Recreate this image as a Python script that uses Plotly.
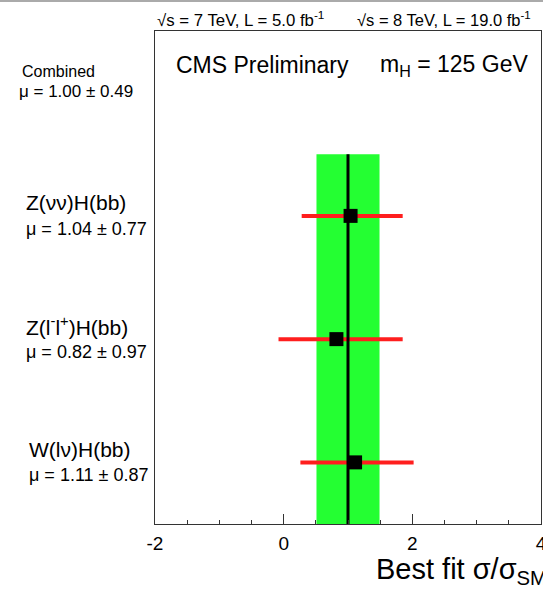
import plotly.graph_objects as go

# fit results
channels = ["W(lν)H(bb)", "Z(l<sup>-</sup>l<sup>+</sup>)H(bb)", "Z(νν)H(bb)"]
mu_text = ["μ = 1.11 ± 0.87", "μ = 0.82 ± 0.97", "μ = 1.04 ± 0.77"]
mu_vals = [1.11, 0.82, 1.04]
err_minus = [0.85, 0.90, 0.76]
err_plus = [0.91, 1.03, 0.81]
y_pos = [0.5, 1.5, 2.5]

comb_mu = 1.00
comb_err = 0.49
comb_text = "μ = 1.00 ± 0.49"

xticks = [-2, 0, 2, 4]
xtick_text = ["-2", "0", "2", "4"]

FONT = "Liberation Sans, Arial, sans-serif"

fig = go.Figure()

# green band for the combined result
fig.add_shape(type="rect", xref="x", yref="y",
              x0=comb_mu - comb_err, x1=comb_mu + comb_err, y0=0, y1=3,
              fillcolor="rgb(36,255,50)", line_width=0, layer="below")

# red error bars
fig.add_trace(go.Scatter(
    x=mu_vals, y=y_pos, mode="markers",
    marker=dict(size=1, color="rgba(0,0,0,0)"),
    error_x=dict(type="data", symmetric=False, array=err_plus, arrayminus=err_minus,
                 color="rgb(255,30,30)", thickness=4, width=0),
    showlegend=False, hoverinfo="skip"))

# black line at combined value
fig.add_trace(go.Scatter(
    x=[comb_mu, comb_mu], y=[0, 3], mode="lines",
    line=dict(color="black", width=3), showlegend=False, hoverinfo="skip"))

# markers
fig.add_trace(go.Scatter(
    x=mu_vals, y=y_pos, mode="markers",
    marker=dict(symbol="square", size=14, color="black", line_width=0),
    showlegend=False))

ann = []
for name, txt, y, dx in zip(channels, mu_text, y_pos, [-128, -131, -131]):
    ann.append(dict(x=0, xref="paper", y=y, yref="y", xanchor="left", yanchor="middle",
                    xshift=dx, yshift=13, text=name, showarrow=False,
                    font=dict(size=21, color="black", family=FONT)))
    ann.append(dict(x=0, xref="paper", y=y, yref="y", xanchor="left", yanchor="middle",
                    xshift=dx, yshift=-13, text=txt, showarrow=False,
                    font=dict(size=18, color="black", family=FONT)))

ann.append(dict(x=0, xref="paper", y=3.5, yref="y", xanchor="left", yanchor="middle",
                xshift=-135, yshift=21, text="Combined", showarrow=False,
                font=dict(size=16, color="black", family=FONT)))
ann.append(dict(x=0, xref="paper", y=3.5, yref="y", xanchor="left", yanchor="middle",
                xshift=-138, yshift=1, text=comb_text, showarrow=False,
                font=dict(size=17, color="black", family=FONT)))

ann.append(dict(x=0, xref="paper", y=1, yref="paper", xanchor="left", yanchor="middle",
                xshift=0, yshift=12, text="√s = 7 TeV, L = 5.0 fb<sup>-1</sup>", showarrow=False,
                font=dict(size=16.8, color="black", family=FONT)))
ann.append(dict(x=0, xref="paper", y=1, yref="paper", xanchor="left", yanchor="middle",
                xshift=200, yshift=12, text="√s = 8 TeV, L = 19.0 fb<sup>-1</sup>", showarrow=False,
                font=dict(size=16.5, color="black", family=FONT)))

ann.append(dict(x=0, xref="paper", y=1, yref="paper", xanchor="left", yanchor="middle",
                xshift=19, yshift=-34, text="CMS Preliminary", showarrow=False,
                font=dict(size=23, color="black", family=FONT)))
ann.append(dict(x=0, xref="paper", y=1, yref="paper", xanchor="left", yanchor="middle",
                xshift=223, yshift=-34, text="m<sub>H</sub> = 125 GeV", showarrow=False,
                font=dict(size=23, color="black", family=FONT)))

ann.append(dict(x=1, xref="paper", y=0, yref="paper", xanchor="right", yanchor="middle",
                xshift=8, yshift=-47, text="Best fit σ/σ<sub>SM</sub>", showarrow=False,
                font=dict(size=29, color="black", family=FONT)))

fig.update_layout(
    width=543, height=589,
    margin=dict(l=155, r=2, t=31, b=65, autoexpand=False),
    paper_bgcolor="white", plot_bgcolor="white",
    font=dict(family=FONT, color="black"),
    annotations=ann,
    xaxis=dict(range=[-2, 4], tickvals=xticks, ticktext=xtick_text,
               ticks="inside", ticklen=10, tickwidth=1, tickcolor="#333",
               minor=dict(dtick=0.5, ticks="inside", ticklen=4, tickcolor="#333", tickwidth=1),
               showgrid=False, zeroline=False, showline=True, linecolor="#333",
               linewidth=1.3, mirror=True, tickfont=dict(size=19, color="black"),
               ticklabelstandoff=2, ticklabeloverflow="allow", automargin=False),
    yaxis=dict(range=[0, 4], showticklabels=False, ticks="", showgrid=False, automargin=False,
               zeroline=False, showline=True, linecolor="#333", linewidth=1.3, mirror=True),
)

# thin gray rule along the top edge of the page
fig.add_shape(type="line", xref="paper", yref="paper",
              x0=-155 / 386, x1=388 / 386, y0=1 + 30 / 493, y1=1 + 30 / 493,
              line=dict(color="#aaaaaa", width=2))

# drop the default body margin and clip anything hanging past the page edge
fig.write_html("out.html", config={"displayModeBar": False},
               post_script="document.body.style.margin='0';"
                           "document.body.style.overflow='hidden';"
                           "document.documentElement.style.overflow='hidden';")
